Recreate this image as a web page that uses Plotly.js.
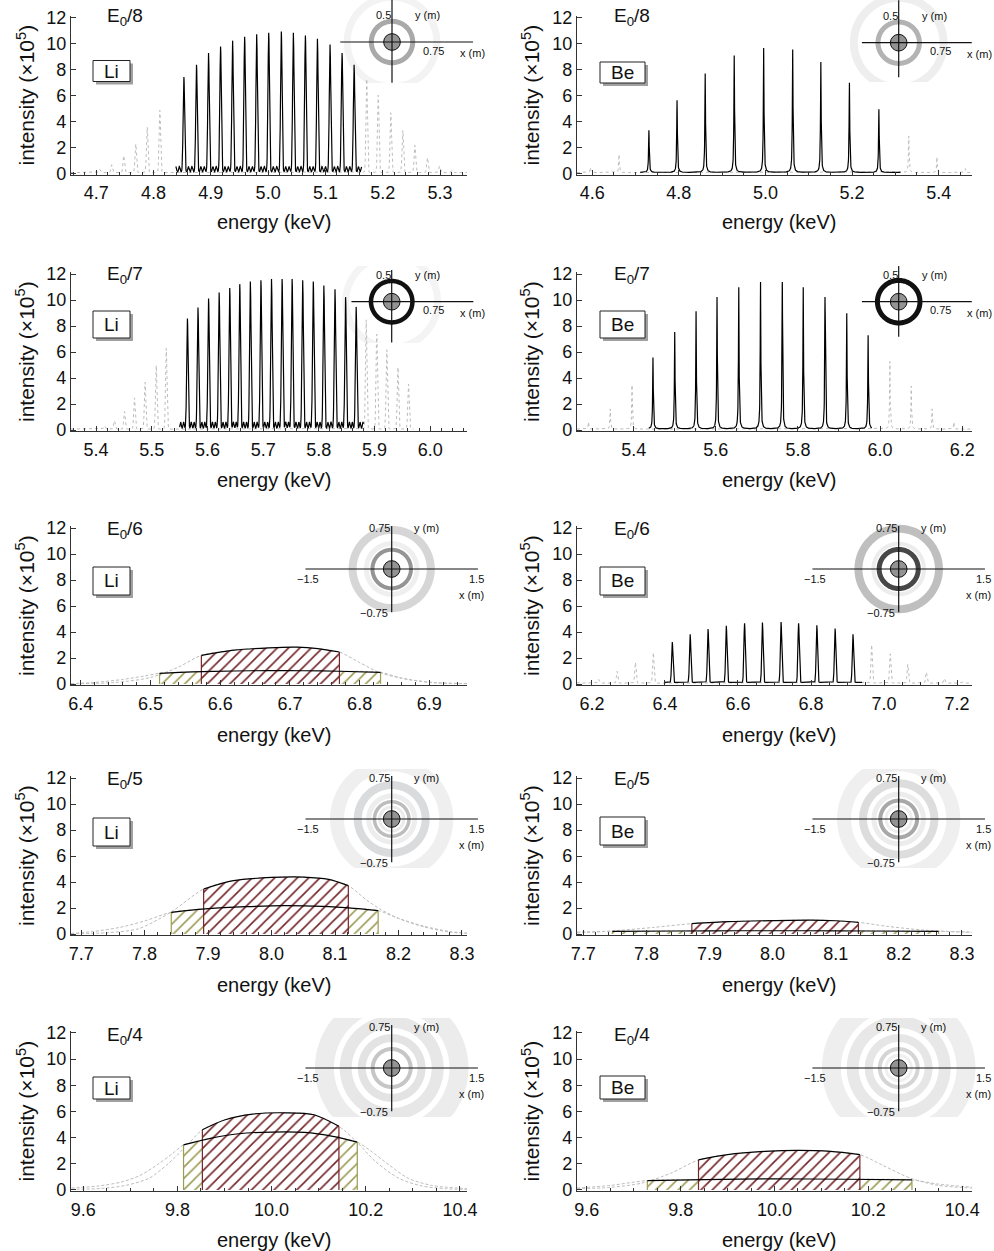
<!DOCTYPE html>
<html><head><meta charset="utf-8">
<script src="https://cdn.plot.ly/plotly-3.0.1.min.js"></script>
<style>html,body{margin:0;padding:0;background:#fff}#chart{width:994px;height:1251px}</style>
</head><body><div id="chart"></div>
<script>
const FONT = '"Liberation Sans", Arial, Helvetica, sans-serif';
const W = 994, H = 1251;

// ================= DATA =================
// --- E0/8, Li : black line peaks, grey dotted peaks, energy window of black line
const li8_lineE = [4.853,4.875,4.896,4.917,4.938,4.959,4.980,5.001,5.023,5.044,5.065,5.086,5.108,5.129,5.150];
const li8_lineI = [7.3,8.25,9.15,9.65,10.1,10.4,10.6,10.7,10.8,10.7,10.5,10.25,9.8,9.15,8.25];
const li8_greyE = [4.706,4.727,4.748,4.769,4.789,4.811,5.172,5.192,5.214,5.235,5.256,5.278,5.299,5.321];
const li8_greyI = [0.25,0.6,1.3,2.2,3.5,4.8,7.2,5.95,4.6,3.25,2.1,1.15,0.5,0.2];
const li8_win = [4.839,5.163];
// --- E0/8, Be
const be8_lineE = [4.731,4.796,4.861,4.928,4.996,5.063,5.128,5.194,5.262];
const be8_lineI = [3.25,5.55,7.6,9.0,9.57,9.45,8.5,6.9,4.85];
const be8_greyE = [4.596,4.662,5.331,5.396,5.462];
const be8_greyI = [0.4,1.4,2.8,1.2,0.3];
const be8_win = [4.711,5.312];
// --- E0/7, Li
const li7_lineE = [5.564,5.583,5.602,5.621,5.640,5.658,5.677,5.696,5.715,5.734,5.752,5.771,5.790,5.809,5.829,5.848,5.867];
const li7_lineI = [8.45,9.3,10.0,10.45,10.8,11.1,11.3,11.4,11.5,11.5,11.5,11.4,11.3,11.0,10.7,10.1,9.35];
const li7_greyE = [5.415,5.433,5.451,5.469,5.488,5.508,5.526,5.885,5.904,5.922,5.942,5.961];
const li7_greyI = [0.25,0.65,1.35,2.4,3.6,4.9,6.2,8.4,7.3,6.1,4.75,3.45];
const li7_win = [5.55,5.88];
// --- E0/7, Be
const be7_lineE = [5.447,5.500,5.552,5.603,5.656,5.709,5.762,5.813,5.866,5.919,5.971];
const be7_lineI = [5.5,7.45,9.05,10.15,10.9,11.3,11.3,10.9,10.15,8.9,7.2];
const be7_greyE = [5.290,5.343,5.396,6.024,6.076,6.127,6.180];
const be7_greyI = [0.55,1.55,3.4,5.2,3.3,1.55,0.55];
const be7_win = [5.437,5.980];
// --- E0/6, Be
const be6_lineE = [6.420,6.469,6.518,6.568,6.618,6.667,6.718,6.766,6.816,6.866,6.915];
const be6_lineI = [3.1,3.7,4.1,4.35,4.55,4.6,4.65,4.55,4.4,4.15,3.7];
const be6_greyE = [6.168,6.218,6.269,6.319,6.368,6.966,7.017,7.065,7.116,7.165,7.216];
const be6_greyI = [0.1,0.3,0.9,1.6,2.35,2.95,2.25,1.45,0.85,0.35,0.1];
const be6_win = [6.40,6.94];

// --- hatched (integrated) panels: outer = wide olive band, inner = narrow maroon band
const li6_outerE = [6.386,6.42,6.46,6.49,6.513,6.56,6.62,6.67,6.72,6.77,6.83,6.86,6.90,6.954];
const li6_outerI = [0.03,0.12,0.35,0.6,0.82,0.93,1.0,1.03,1.02,0.98,0.9,0.45,0.12,0.03];
const li6_outerWin = [6.513,6.83];
const li6_innerE = [6.386,6.45,6.50,6.54,6.573,6.62,6.67,6.71,6.74,6.771,6.80,6.83,6.87,6.91,6.954];
const li6_innerI = [0.02,0.12,0.5,1.3,2.2,2.6,2.78,2.83,2.72,2.46,1.65,0.85,0.35,0.1,0.03];
const li6_innerWin = [6.573,6.771];

const li5_outerE = [7.684,7.72,7.76,7.80,7.842,7.9,7.96,8.02,8.08,8.13,8.168,8.2,8.24,8.28,8.308];
const li5_outerI = [0.05,0.2,0.5,1.0,1.67,1.95,2.1,2.18,2.12,1.97,1.8,1.2,0.6,0.2,0.08];
const li5_outerWin = [7.842,8.168];
const li5_innerE = [7.684,7.74,7.79,7.842,7.893,7.94,8.0,8.05,8.09,8.121,8.15,8.17,8.2,8.24,8.28,8.308];
const li5_innerI = [0.02,0.1,0.4,1.7,3.46,4.1,4.35,4.38,4.2,3.72,2.6,1.95,1.2,0.55,0.15,0.05];
const li5_innerWin = [7.893,8.121];

const be5_outerE = [7.69,7.746,7.85,7.95,8.05,8.15,8.263,8.316];
const be5_outerI = [0.15,0.2,0.23,0.25,0.25,0.23,0.2,0.15];
const be5_outerWin = [7.746,8.263];
const be5_innerE = [7.69,7.75,7.81,7.872,7.93,8.0,8.06,8.1,8.136,8.18,8.24,8.316];
const be5_innerI = [0.08,0.25,0.5,0.8,0.95,1.03,1.07,1.02,0.9,0.6,0.3,0.12];
const be5_innerWin = [7.872,8.136];

const li4_outerE = [9.575,9.63,9.68,9.72,9.76,9.79,9.813,9.87,9.93,10.0,10.07,10.13,10.182,10.21,10.25,10.29,10.34,10.415];
const li4_outerI = [0.15,0.3,0.6,1.1,2.0,2.8,3.45,3.95,4.3,4.43,4.4,4.1,3.66,3.0,1.9,0.9,0.35,0.1];
const li4_outerWin = [9.813,10.182];
const li4_innerE = [9.575,9.64,9.69,9.74,9.78,9.82,9.853,9.9,9.96,10.03,10.09,10.143,10.18,10.22,10.27,10.32,10.37,10.415];
const li4_innerI = [0.05,0.12,0.35,0.9,2.0,3.4,4.6,5.35,5.8,5.9,5.75,4.87,3.7,2.2,0.9,0.3,0.1,0.05];
const li4_innerWin = [9.853,10.143];

const be4_outerE = [9.579,9.65,9.729,9.85,10.0,10.15,10.293,10.35,10.421];
const be4_outerI = [0.15,0.35,0.72,0.8,0.85,0.82,0.77,0.45,0.22];
const be4_outerWin = [9.729,10.293];
const be4_innerE = [9.579,9.65,9.72,9.78,9.838,9.9,9.98,10.05,10.12,10.182,10.23,10.29,10.35,10.421];
const be4_innerI = [0.1,0.2,0.55,1.3,2.3,2.7,2.95,3.03,2.95,2.7,1.9,0.9,0.35,0.15];
const be4_innerWin = [9.838,10.182];

// --- inset rings: [radius (m), stroke (px), colour]
const rings_li8 = [[0.78,7,'#f3f3f3'],[0.36,5,'#a9a9a9']];
const rings_be8 = [[0.78,8,'#eeeeee'],[0.36,5,'#b3b3b3']];
const rings_li7 = [[0.80,7,'#f4f4f4'],[0.36,4.5,'#111111']];
const rings_be7 = [[0.37,5,'#111111']];
const rings_li6 = [[0.68,8,'#d6d6d6'],[0.44,5,'#efefef'],[0.335,4,'#959595']];
const rings_be6 = [[0.70,8,'#bfbfbf'],[0.44,4,'#ececec'],[0.34,5,'#474747']];
const rings_li5 = [[0.95,14,'#efefef'],[0.59,8,'#d9dbdc'],[0.40,5,'#ededed'],[0.30,3.5,'#bdbdbd'],[0.21,3,'#ebebeb']];
const rings_be5 = [[0.95,14,'#efefef'],[0.62,8,'#dddddd'],[0.43,5,'#ececec'],[0.32,4,'#a8a8a8'],[0.22,3,'#eeeeee']];
const rings_li4 = [[1.17,19,'#ececec'],[0.80,12,'#e7e7e7'],[0.52,8,'#e3e3e3'],[0.33,4,'#c6c6c6']];
const rings_be4 = [[1.17,19,'#eeeeee'],[0.80,12,'#e8e8e8'],[0.52,8,'#e6e6e6'],[0.33,4,'#d5d5d5'],[0.22,3,'#efefef']];

const orders = ['E<sub>0</sub>/8','E<sub>0</sub>/7','E<sub>0</sub>/6','E<sub>0</sub>/5','E<sub>0</sub>/4'];
const targets = ['Li','Be'];

// ================= LAYOUT CONFIG =================
const colPx = [[71,467],[577,972]];
const rowY0 = [173.5,430,684,934,1190];
const rowY12 = [17.5,274,528,778,1033];
const YR = [-0.08,12.15];
const MAROON = '#74262a', OLIVE = '#9c9c55';
const S = 57.5; // inset px per metre

const panels = [
 {type:'peaks', range:[4.656,5.347], dtick:0.1, minor:0.02, lineE:li8_lineE, lineI:li8_lineI, win:li8_win, greyE:li8_greyE, greyI:li8_greyI, greyWin:[4.656,5.347], prof:{w:0.0013, step:0.0004}, base:0.12, sat:{frac:[0.36,0.64], h:0.42, w:0.0011},
  inset:{c:[392,42], box:[330,0,480,83], h:[-0.9,1.41], v:[-0.71,0.73], kind:'A', rings:rings_li8}, box:[93,60.5,130,81.5]},
 {type:'peaks', range:[4.565,5.477], dtick:0.2, minor:0.05, lineE:be8_lineE, lineI:be8_lineI, win:be8_win, greyE:be8_greyE, greyI:be8_greyI, greyWin:[4.565,5.477], prof:{w:0.0009, lor:true, step:0.0003}, base:0.08, sat:null,
  inset:{c:[898.7,42.7], box:[850,0,980,82], h:[-0.64,1.27], v:[-0.6,0.74], kind:'A', rings:rings_be8}, box:[600,62,645,83]},
 {type:'peaks', range:[5.355,6.066], dtick:0.1, minor:0.02, lineE:li7_lineE, lineI:li7_lineI, win:li7_win, greyE:li7_greyE, greyI:li7_greyI, greyWin:[5.355,5.97], prof:{w:0.0013, step:0.0004}, base:0.12, sat:{frac:[0.36,0.64], h:0.5, w:0.001},
  inset:{c:[391.7,301.7], box:[335,266,480,343], h:[-0.70,1.42], v:[-0.71,0.55], kind:'A', rings:rings_li7}, box:[93,311,130,338]},
 {type:'peaks', range:[5.262,6.224], dtick:0.2, minor:0.05, lineE:be7_lineE, lineI:be7_lineI, win:be7_win, greyE:be7_greyE, greyI:be7_greyI, greyWin:[5.262,6.224], prof:{w:0.0009, lor:true, step:0.0003}, base:0.08, sat:null,
  inset:{c:[898.7,301.7], box:[850,262,980,337], h:[-0.64,1.27], v:[-0.61,0.62], kind:'A', rings:rings_be7}, box:[600,311,645,338]},
 {type:'bands', range:[6.386,6.954], dtick:0.1, minor:0.02, outer:[li6_outerE,li6_outerI,li6_outerWin], inner:[li6_innerE,li6_innerI,li6_innerWin],
  inset:{c:[391.7,569], box:[300,520,485,620], h:[-1.5,1.5], v:[-0.75,0.75], kind:'B', rings:rings_li6}, box:[93,567,130,595]},
 {type:'peaks', range:[6.159,7.241], dtick:0.2, minor:0.05, lineE:be6_lineE, lineI:be6_lineI, win:be6_win, greyE:be6_greyE, greyI:be6_greyI, greyWin:[6.159,7.241], prof:{w:0.0019, step:0.0004}, base:0.12, sat:null,
  inset:{c:[898.7,569], box:[805,520,990,620], h:[-1.5,1.5], v:[-0.75,0.75], kind:'B', rings:rings_be6}, box:[600,567,645,595]},
 {type:'bands', range:[7.684,8.308], dtick:0.1, minor:0.02, outer:[li5_outerE,li5_outerI,li5_outerWin], inner:[li5_innerE,li5_innerI,li5_innerWin],
  inset:{c:[391.7,819], box:[300,769,485,868], h:[-1.5,1.5], v:[-0.75,0.75], kind:'B', rings:rings_li5}, box:[93,818,130,846]},
 {type:'bands', range:[7.69,8.316], dtick:0.1, minor:0.02, outer:[be5_outerE,be5_outerI,be5_outerWin], inner:[be5_innerE,be5_innerI,be5_innerWin],
  inset:{c:[898.7,819], box:[805,769,990,868], h:[-1.5,1.5], v:[-0.75,0.75], kind:'B', rings:rings_be5}, box:[600,817,645,845]},
 {type:'bands', range:[9.574,10.415], dtick:0.2, minor:0.05, outer:[li4_outerE,li4_outerI,li4_outerWin], inner:[li4_innerE,li4_innerI,li4_innerWin],
  inset:{c:[391.7,1068], box:[315,1018,470,1117], h:[-1.5,1.5], v:[-0.75,0.75], kind:'B', rings:rings_li4}, box:[93,1077,130,1099]},
 {type:'bands', range:[9.579,10.421], dtick:0.2, minor:0.05, outer:[be4_outerE,be4_outerI,be4_outerWin], inner:[be4_innerE,be4_innerI,be4_innerWin],
  inset:{c:[898.7,1068], box:[822,1018,977,1117], h:[-1.5,1.5], v:[-0.75,0.75], kind:'B', rings:rings_be4}, box:[600,1076,645,1099]}
];

const insetLabels = {
 A: [['0.5',0.02,0.47,'right'],['y (m)',0.37,0.47,'left'],['0.75',0.72,-0.15,'center'],['x (m)',1.15,-0.19,'left']],
 B: [['0.75',0.0,0.72,'right'],['y (m)',0.35,0.72,'left'],['\u22121.5',-1.46,-0.17,'center'],['1.5',1.48,-0.17,'center'],['x (m)',1.39,-0.45,'center'],['\u22120.75',-0.03,-0.77,'right']]
};
const eLabelY = [17,275,530,780,1036];
const xTitleY = [222,480,735,985,1240];

// ================= BUILD =================
const px = p => p / W;
const py = p => 1 - p / H;

function buildPeaks(E, I, lo, hi, o, base, sat) {
  const xs = [];
  const n = Math.round((hi - lo) / o.step);
  for (let k = 0; k <= n; k++) xs.push(lo + k * (hi - lo) / n);
  E.forEach(c => { if (c > lo && c < hi) xs.push(c); });
  xs.sort((a, b) => a - b);
  const sats = [];
  if (sat) {
    for (let i = -1; i < E.length; i++) {
      const a = i < 0 ? E[0] - (E[1] - E[0]) : E[i];
      const d = i < 0 ? (E[1] - E[0]) : (i < E.length - 1 ? E[i + 1] - E[i] : E[i] - E[i - 1]);
      sat.frac.forEach(f => sats.push(a + f * d));
    }
  }
  const prof = d => o.lor ? 1 / (1 + (d / o.w) ** 2) : Math.exp(-0.5 * (d / o.w) ** 2);
  const ys = xs.map(x => {
    let y = base;
    for (let i = 0; i < E.length; i++) y += I[i] * prof(x - E[i]);
    sats.forEach(s => { y += sat.h * Math.exp(-0.5 * ((x - s) / sat.w) ** 2); });
    return y;
  });
  return {x: xs, y: ys};
}

// annulus clipped to a pixel box, as a paper-coordinate SVG path
function ringPath(cx, cy, rIn, rOut, box) {
  const [L, T, R, B] = box, N = 160;
  const cl = (v, a, b) => Math.min(b, Math.max(a, v));
  const poly = (r, dir) => {
    let s = '';
    for (let k = 0; k <= N; k++) {
      const a = dir * 2 * Math.PI * k / N;
      const x = cl(cx + r * Math.cos(a), L, R), y = cl(cy + r * Math.sin(a), T, B);
      s += (k === 0 ? 'M' : 'L') + px(x).toFixed(5) + ',' + py(y).toFixed(5);
    }
    return s + 'Z';
  };
  return poly(rOut, 1) + ' ' + poly(Math.max(rIn, 0.01), -1);
}

const traces = [], shapes = [], annotations = [];
const layout = {
  width: W, height: H, margin: {l:0, r:0, t:0, b:0},
  paper_bgcolor: '#fff', plot_bgcolor: 'rgba(0,0,0,0)', showlegend: false,
  font: {family: FONT, color: '#111'}, shapes, annotations
};

panels.forEach((P, p) => {
  const row = Math.floor(p / 2), col = p % 2;
  const ax = p === 0 ? '' : String(p + 1);
  const xa = 'x' + ax, ya = 'y' + ax;
  const ppu = (rowY0[row] - rowY12[row]) / 12;
  const botPx = rowY0[row] - YR[0] * ppu, topPx = rowY12[row] - (YR[1] - 12) * ppu;
  const axCommon = {
    showline: true, linecolor: '#333', linewidth: 1.2, mirror: false,
    showgrid: false, zeroline: false, ticks: 'inside', ticklen: 5, tickwidth: 1, tickcolor: '#333',
    tickfont: {family: FONT, size: 18, color: '#111'}, fixedrange: true
  };
  layout['xaxis' + ax] = Object.assign({}, axCommon, {
    domain: [px(colPx[col][0]), px(colPx[col][1])], range: P.range, anchor: ya,
    tick0: 0, dtick: P.dtick, tickformat: '.1f', ticklabelstandoff: 2,
    minor: {ticks: 'inside', ticklen: 3, tickcolor: '#333', dtick: P.minor, tick0: 0, showgrid: false}
  });
  layout['yaxis' + ax] = Object.assign({}, axCommon, {
    domain: [py(botPx), py(topPx)], range: YR, anchor: xa, tick0: 0, dtick: 2, ticklabelstandoff: 0
  });

  if (P.type === 'peaks') {
    const g = buildPeaks(P.greyE, P.greyI, P.greyWin[0], P.greyWin[1], P.prof, 0.07, null);
    traces.push({type:'scatter', mode:'lines', x:g.x, y:g.y, xaxis:xa, yaxis:ya, hoverinfo:'skip',
      line:{color:'#bcbcbc', width:1, dash:'dot'}});
    const b = buildPeaks(P.lineE, P.lineI, P.win[0], P.win[1], P.prof, P.base, P.sat);
    traces.push({type:'scatter', mode:'lines', x:b.x, y:b.y, xaxis:xa, yaxis:ya, hoverinfo:'skip',
      line:{color:'#000', width:1.2}});
  } else {
    const bands = [[P.outer, OLIVE], [P.inner, MAROON]];
    bands.forEach(([B]) => {
      traces.push({type:'scatter', mode:'lines', x:B[0], y:B[1], xaxis:xa, yaxis:ya, hoverinfo:'skip',
        line:{color:'#bdbdbd', width:1, dash:'3px,2px', shape:'spline', smoothing:0.8}});
    });
    const tops = [];
    bands.forEach(([B, colr]) => {
      const [E, I, win] = B;
      const wx = [], wy = [];
      E.forEach((e, i) => { if (e >= win[0] - 1e-9 && e <= win[1] + 1e-9) { wx.push(e); wy.push(I[i]); } });
      traces.push({type:'scatter', mode:'lines', x:wx, y:wy, xaxis:xa, yaxis:ya, hoverinfo:'skip',
        fill:'tozeroy', fillcolor:'#ffffff',
        fillpattern:{shape:'/', fgcolor:colr, bgcolor:'#ffffff', size:8, solidity:0.2},
        line:{width:0, shape:'spline', smoothing:0.8, color:colr}});
      [0, wx.length - 1].forEach(k => {
        traces.push({type:'scatter', mode:'lines', x:[wx[k], wx[k]], y:[0, wy[k]], xaxis:xa, yaxis:ya, hoverinfo:'skip',
          line:{color:colr, width:1.2}});
      });
      tops.push([wx, wy]);
    });
    tops.reverse().forEach(([wx, wy]) => {
      traces.push({type:'scatter', mode:'lines', x:wx, y:wy, xaxis:xa, yaxis:ya, hoverinfo:'skip',
        line:{color:'#000', width:1.2, shape:'spline', smoothing:0.8}});
    });
  }

  // ---- labels
  annotations.push({xref:'paper', yref:'paper', x:px(col === 0 ? 125 : 632), y:py(eLabelY[row]),
    text: orders[row], showarrow:false, xanchor:'center', yanchor:'middle', font:{size:19, color:'#111'}});
  const bx = P.box;
  shapes.push({type:'rect', xref:'paper', yref:'paper', x0:px(bx[0] + 3), x1:px(bx[2] + 3), y0:py(bx[3] + 3), y1:py(bx[1] + 3),
    fillcolor:'#a0a0a0', line:{width:0}, layer:'above'});
  shapes.push({type:'rect', xref:'paper', yref:'paper', x0:px(bx[0]), x1:px(bx[2]), y0:py(bx[3]), y1:py(bx[1]),
    fillcolor:'#ffffff', line:{width:1, color:'#222'}, layer:'above'});
  annotations.push({xref:'paper', yref:'paper', x:px((bx[0] + bx[2]) / 2), y:py((bx[1] + bx[3]) / 2),
    text: targets[col], showarrow:false, xanchor:'center', yanchor:'middle', font:{size:19, color:'#111'}});
  annotations.push({xref:'paper', yref:'paper', x:px(col === 0 ? 25 : 530), y:py((rowY0[row] + rowY12[row]) / 2),
    text:'intensity (\u00d710<sup>5</sup>)', textangle:-90, showarrow:false, xanchor:'center', yanchor:'middle',
    font:{size:21, color:'#111'}});
  annotations.push({xref:'paper', yref:'paper', x:px((colPx[col][0] + colPx[col][1]) / 2 + 5), y:py(xTitleY[row]),
    text:'energy (keV)', showarrow:false, xanchor:'center', yanchor:'middle', font:{size:20, color:'#111'}});

  // ---- inset (rings below the spectra, clipped to the inset box)
  const In = P.inset;
  const [cx, cy] = In.c;
  In.rings.forEach(([r, w, c]) => {
    shapes.push({type:'path', xref:'paper', yref:'paper', path: ringPath(cx, cy, r * S - w / 2, r * S + w / 2, In.box),
      fillcolor:c, line:{width:0}, layer:'below'});
  });
  const dr = 0.145 * S;
  shapes.push({type:'circle', xref:'paper', yref:'paper', x0:px(cx - dr), x1:px(cx + dr), y0:py(cy + dr), y1:py(cy - dr),
    line:{color:'#111', width:1}, fillcolor:'#939393', layer:'above'});
  shapes.push({type:'line', xref:'paper', yref:'paper', x0:px(cx + In.h[0] * S), x1:px(cx + In.h[1] * S), y0:py(cy), y1:py(cy),
    line:{color:'#111', width:1.2}, layer:'above'});
  shapes.push({type:'line', xref:'paper', yref:'paper', x0:px(cx), x1:px(cx), y0:py(cy - In.v[0] * S), y1:py(cy - In.v[1] * S),
    line:{color:'#111', width:1.2}, layer:'above'});
  insetLabels[In.kind].forEach(([t, mx, my, anc]) => {
    annotations.push({xref:'paper', yref:'paper', x:px(cx + mx * S), y:py(cy - my * S), text:t, showarrow:false,
      xanchor:anc, yanchor:'middle', font:{size:11, color:'#111'}});
  });
});

Plotly.newPlot('chart', traces, layout, {displayModeBar:false, staticPlot:true});
</script>
</body></html>
